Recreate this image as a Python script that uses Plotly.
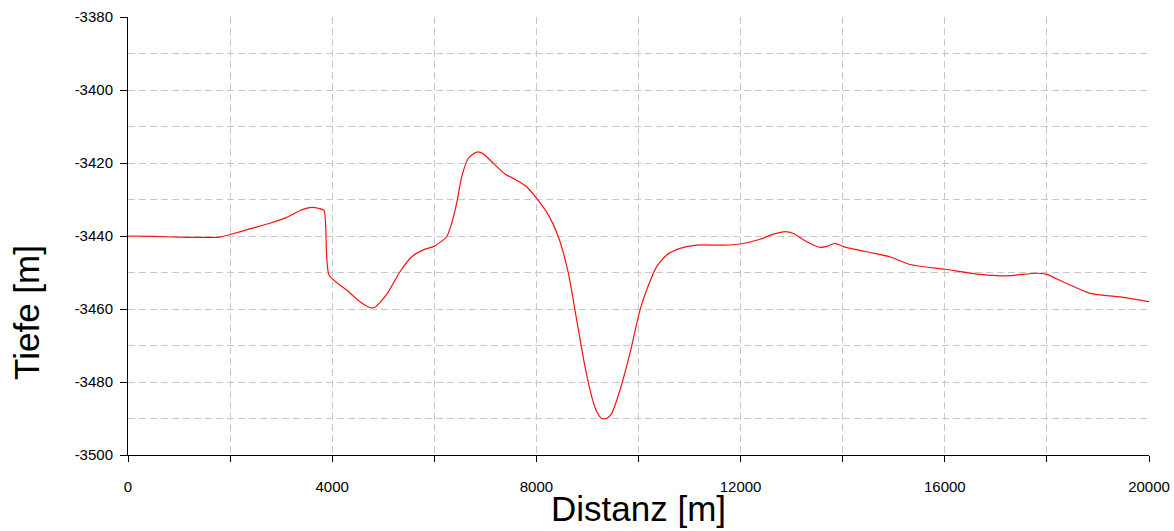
import plotly.graph_objects as go

# Profile along the section line: distance [m] and depth [m]
distanz = [
    0, 500, 1000, 1500, 1800, 2000, 2400, 2780, 3108, 3370, 3565, 3730, 3840,
    3937, 4283, 4545, 4740, 4838, 5067, 5328, 5557, 5785, 6014, 6242, 6341,
    6438, 6536, 6667, 6830, 6961, 7157, 7385, 7614, 7810, 8005, 8234, 8430,
    8626, 8789, 8952, 9083, 9181, 9279, 9377, 9475, 9638, 9833, 10029, 10160,
    10356, 10552, 10813, 11140, 11661, 11988, 12380, 12641, 12870, 13034,
    13295, 13555, 13719, 13849, 14012, 14600, 14926, 15318, 16004, 16690,
    17212, 17800, 17995, 18387, 18844, 19497, 20000,
]
tiefe = [
    -3440.0, -3440.1, -3440.3, -3440.4, -3440.3, -3439.6, -3438.0, -3436.5,
    -3434.9, -3433.0, -3432.2, -3432.4, -3433.0,
    -3450.7, -3454.8, -3458.0, -3459.6, -3459.5, -3456.0, -3449.8, -3445.7,
    -3443.8, -3442.7, -3440.2, -3436.5,
    -3431.0, -3423.8, -3418.7, -3417.0, -3417.5, -3420.1, -3423.0, -3424.7,
    -3426.5, -3429.7, -3434.2, -3440.2,
    -3450.2, -3463.0, -3475.8, -3484.0, -3488.1, -3490.0, -3490.0, -3488.6,
    -3482.2, -3472.1, -3460.3, -3454.8,
    -3448.4, -3445.2, -3443.4, -3442.5, -3442.5, -3442.2, -3440.9, -3439.5,
    -3438.8, -3439.3,
    -3441.6, -3443.1, -3442.7, -3442.0, -3442.9, -3444.7, -3445.7, -3447.8,
    -3449.1, -3450.5,
    -3450.9, -3450.2, -3450.5, -3453.0, -3455.7, -3456.8, -3458.0,
]

x_ticks = list(range(0, 20001, 2000))
x_labels = [str(v) if v % 4000 == 0 else "" for v in x_ticks]
y_ticks = list(range(-3500, -3379, 20))
y_labels = [str(v) for v in y_ticks]

font_family = "Liberation Sans, Arial, sans-serif"
grid_col = "#c8c8c8"
grid_dash = "7px,4px"
title_size = 35

fig = go.Figure()
fig.add_trace(go.Scatter(
    x=distanz, y=tiefe, mode="lines",
    line=dict(color="#ff1010", width=1.2, shape="spline", smoothing=0.6),
    hoverinfo="skip", showlegend=False,
))

fig.update_layout(
    width=1174, height=531,
    margin=dict(l=128, r=25, t=17, b=76),
    paper_bgcolor="white", plot_bgcolor="white",
    font=dict(family=font_family, color="black", size=15),
    xaxis=dict(
        range=[0, 20000], tickmode="array", tickvals=x_ticks, ticktext=x_labels,
        showline=True, linecolor="black", linewidth=1,
        ticks="outside", ticklen=6, tickcolor="black", tickwidth=1,
        ticklabelstandoff=12, automargin=False,
        showgrid=True, gridcolor=grid_col, griddash=grid_dash, gridwidth=1,
        zeroline=False, tickfont=dict(size=15),
    ),
    yaxis=dict(
        range=[-3500, -3380], tickmode="array", tickvals=y_ticks, ticktext=y_labels,
        showline=True, linecolor="black", linewidth=1,
        ticks="outside", ticklen=7, tickcolor="black", tickwidth=1,
        ticklabelstandoff=4, automargin=False,
        showgrid=True, gridcolor=grid_col, griddash=grid_dash, gridwidth=1,
        minor=dict(tick0=-3500, dtick=10, showgrid=True, gridcolor=grid_col,
                   griddash=grid_dash, gridwidth=1, ticks=""),
        zeroline=False, tickfont=dict(size=15),
    ),
    # companion axes carrying the inner half of the tick marks
    xaxis2=dict(
        range=[0, 20000], overlaying="x", anchor="y", side="bottom",
        tickmode="array", tickvals=x_ticks, ticks="inside", ticklen=6,
        tickcolor="black", showticklabels=False, showgrid=False,
        zeroline=False, showline=False, automargin=False,
    ),
    yaxis2=dict(
        range=[-3500, -3380], overlaying="y", anchor="x", side="left",
        tickmode="array", tickvals=y_ticks, ticks="inside", ticklen=7,
        tickcolor="black", showticklabels=False, showgrid=False,
        zeroline=False, showline=False, automargin=False,
    ),
    annotations=[
        dict(text="Distanz [m]", xref="paper", yref="paper", x=0.5, y=-0.1712,
             xanchor="center", yanchor="bottom", showarrow=False,
             font=dict(size=title_size)),
        dict(text="Tiefe [m]", xref="paper", yref="paper", x=-0.099, y=0.3265,
             xanchor="center", yanchor="middle", showarrow=False, textangle=-90,
             font=dict(size=title_size)),
    ],
)

fig.write_html("out.html")
